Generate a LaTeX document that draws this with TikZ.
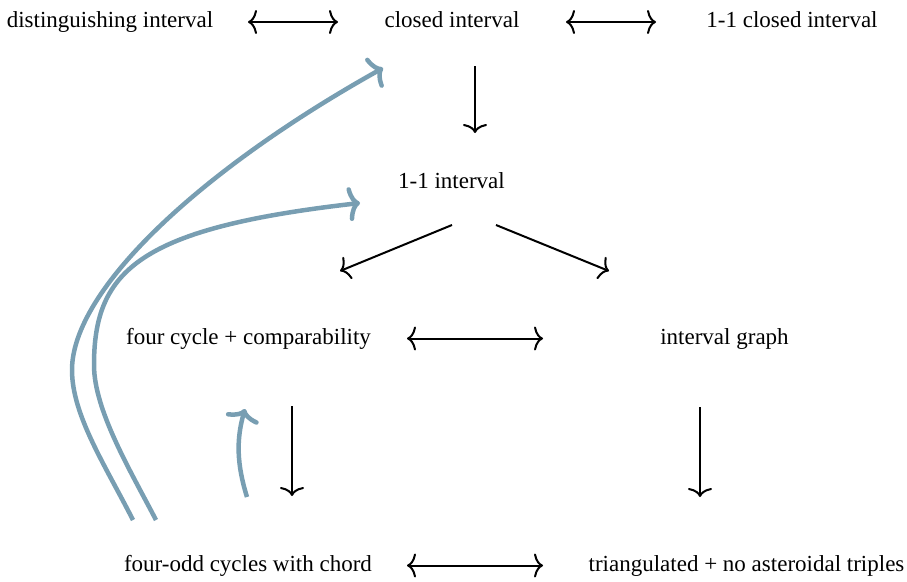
\documentclass[tikz,border=0pt]{standalone}
\usepackage{fontspec}
\setmainfont{Liberation Serif}
\usetikzlibrary{arrows.meta}
\definecolor{steelb}{RGB}{120,158,178}
\begin{document}
\begin{tikzpicture}[x=1pt,y=-1pt,
  lbl/.style={anchor=base,inner sep=0pt,font=\fontsize{23}{27}\selectfont},
  blk/.style={line width=2pt,black},
  tipb/.tip={Computer Modern Rightarrow[length=9pt,width=24pt,line width=2pt]},
  tipl/.tip={Computer Modern Rightarrow[length=12pt,width=34pt,line width=4.5pt]},
  one/.style={blk,-tipb},
  two/.style={blk,tipb-tipb},
  blu/.style={line width=4.5pt,steelb,-tipl}]
\useasboundingbox (0,0) rectangle (907,581);
\node[lbl] (dist) at (110,27.5) {distinguishing interval};
\node[lbl] (closed) at (452,27.5) {closed interval};
\node[lbl] (cl11) at (792,27.5) {1-1 closed interval};
\node[lbl] (oneone) at (451.5,188) {1-1 interval};
\node[lbl] (fourcyc) at (248.5,344) {four cycle + comparability};
\node[lbl] (ig) at (724.5,344) {interval graph};
\node[lbl] (fourodd) at (248,571) {four-odd cycles with chord};
\node[lbl] (tri) at (746.5,571) {triangulated + no asteroidal triples};
% black connectors
\draw[two] ([shift={(138pt,5.5pt)}]dist.base) -- ([shift={(-114pt,5.5pt)}]closed.base);
\draw[two] ([shift={(114pt,5.5pt)}]closed.base) -- ([shift={(-136pt,5.5pt)}]cl11.base);
\draw[one] ([shift={(23pt,-38.5pt)}]closed.base) -- ([shift={(23.5pt,55pt)}]oneone.base);
\draw[one] ([shift={(0.5pt,-37pt)}]oneone.base) -- ([shift={(91.5pt,73pt)}]fourcyc.base);
\draw[one] ([shift={(44.5pt,-37pt)}]oneone.base) -- ([shift={(-115.5pt,73pt)}]ig.base);
\draw[two] ([shift={(158.5pt,5.5pt)}]fourcyc.base) -- ([shift={(-181.5pt,5.5pt)}]ig.base);
\draw[one] ([shift={(43.5pt,-62pt)}]fourcyc.base) -- ([shift={(44pt,75pt)}]fourodd.base);
\draw[one] ([shift={(-24.5pt,-63pt)}]ig.base) -- ([shift={(-46.5pt,74pt)}]tri.base);
\draw[two] ([shift={(159pt,5.5pt)}]fourodd.base) -- ([shift={(-203.5pt,5.5pt)}]tri.base);
% blue connectors
\draw[blu] ([shift={(-115pt,51pt)}]fourodd.base) .. controls (105,465) and (72,415) .. (72,370)
  .. controls (72,290) and (200,170) .. ([shift={(-69pt,-40.5pt)}]closed.base);
\draw[blu] ([shift={(-92pt,51pt)}]fourodd.base) .. controls (130,470) and (94,410) .. (94,365)
  .. controls (94,270) and (140,228) .. ([shift={(-91.5pt,-15pt)}]oneone.base);
\draw[blu] ([shift={(-1pt,74pt)}]fourodd.base) .. controls (237,465) and (236,440) .. ([shift={(-3.5pt,-65pt)}]fourcyc.base);
\end{tikzpicture}
\end{document}
